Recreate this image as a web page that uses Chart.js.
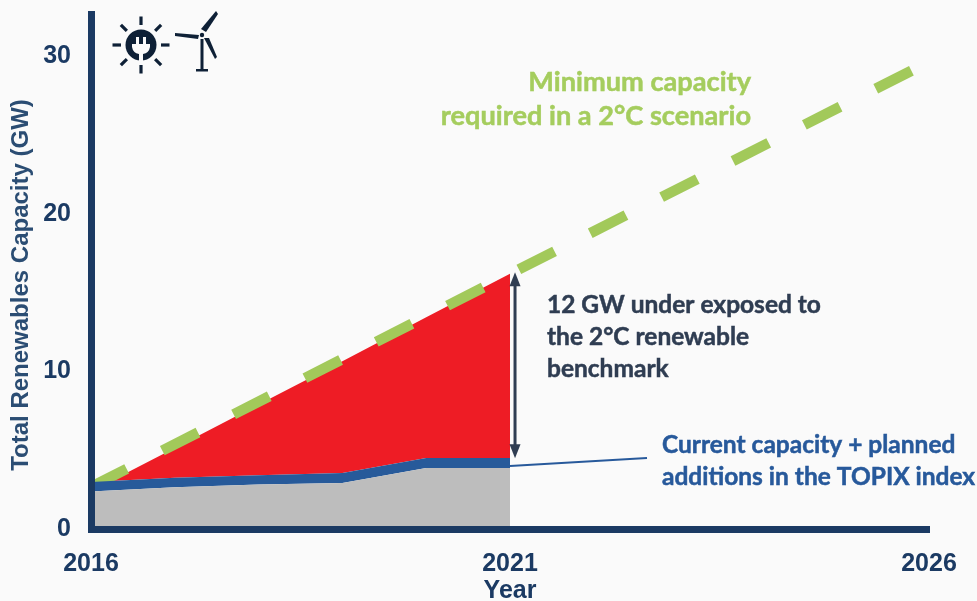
<!DOCTYPE html>
<html>
<head>
<meta charset="utf-8">
<title>Renewables capacity</title>
<script src="https://cdn.jsdelivr.net/npm/chart.js@4/dist/chart.umd.min.js"></script>
<style>
  html, body { margin: 0; padding: 0; background: #fafafa; }
  #box { width: 977px; height: 601px; }
</style>
</head>
<body>
<div id="box"><canvas id="grafico"></canvas></div>
<script>
// values
const anos = [2016, 2017, 2018, 2019, 2020, 2021];
const existente = [2.38, 2.65, 2.82, 2.92, 3.87, 3.87];
const planejado = [2.98, 3.25, 3.42, 3.56, 4.51, 4.51];
const lacuna = [2.4, 5.15, 7.9, 10.65, 13.45, 16.2];
const anosCenario = [2016, 2021, 2025.79];
const cenario = [2.67, 16.2, 29.1];
const ticksX = [2016, 2021, 2026];
const ticksY = [0, 10, 20, 30];

const pares = (xs, ys) => xs.map((x, i) => ({ x, y: ys[i] }));

const AZUL_EIXO = '#1b3a63';
const fonteEixo = { family: '"Liberation Sans"', weight: 'bold', size: 25 };

const serie = (data, cor, fill) => ({
  data, fill, backgroundColor: cor, borderWidth: 0, pointRadius: 0, tension: 0
});

// bold text slightly heavier, the source font is denser than Lato
function texto(c, s, x, y) {
  c.fillText(s, x, y);
  c.strokeStyle = c.fillStyle;
  c.lineWidth = 0.5;
  c.strokeText(s, x, y);
}

// texts, arrow, leader line and the two icons
const anotacoes = {
  id: 'anotacoes',
  afterDatasetsDraw(chart) {
    const c = chart.ctx;
    const sx = chart.scales.x, sy = chart.scales.y;
    c.save();

    // double arrow
    const xa = sx.getPixelForValue(2021.06);
    const y1 = sy.getPixelForValue(16.3), y2 = sy.getPixelForValue(4.5);
    c.strokeStyle = c.fillStyle = '#2f3d52';
    c.lineWidth = 3;
    c.beginPath(); c.moveTo(xa, y1 + 8); c.lineTo(xa, y2 - 8); c.stroke();
    c.beginPath(); c.moveTo(xa, y1); c.lineTo(xa - 5.5, y1 + 14); c.lineTo(xa + 5.5, y1 + 14); c.fill();
    c.beginPath(); c.moveTo(xa, y2); c.lineTo(xa - 5.5, y2 - 14); c.lineTo(xa + 5.5, y2 - 14); c.fill();

    // leader
    c.strokeStyle = '#27599b';
    c.lineWidth = 2;
    c.beginPath();
    c.moveTo(sx.getPixelForValue(2021), sy.getPixelForValue(4.0));
    c.lineTo(647, 458);
    c.stroke();

    // y axis title sits lower than the axis middle, so it is placed by hand
    c.save();
    c.translate(21, 285);
    c.rotate(-Math.PI / 2);
    c.textAlign = 'center';
    c.textBaseline = 'middle';
    c.font = 'bold 24px "Liberation Sans"';
    c.fillStyle = '#2b4d73';
    c.fillText('Total Renewables Capacity (GW)', 0, 0);
    c.restore();

    // labels
    c.textBaseline = 'middle';
    c.font = 'bold 27.2px Lato';
    c.fillStyle = '#a5cd5e';
    c.textAlign = 'right';
    texto(c, 'Minimum capacity', 751, 82);
    texto(c, 'required in a 2°C scenario', 751, 116);

    c.textAlign = 'left';
    c.font = 'bold 24.5px Lato';
    c.fillStyle = '#2f3d52';
    texto(c, '12 GW under exposed to', 547, 305);
    texto(c, 'the 2°C renewable', 547, 337);
    texto(c, 'benchmark', 547, 369);

    c.fillStyle = '#27599b';
    texto(c, 'Current capacity + planned', 662, 445);
    texto(c, 'additions in the TOPIX index', 662, 477);

    // sun + plug
    c.strokeStyle = c.fillStyle = '#0e2036';
    c.lineWidth = 3.2;
    for (let i = 0; i < 8; i++) {
      const a = i * Math.PI / 4;
      c.beginPath();
      c.moveTo(141 + 20 * Math.cos(a), 45 + 20 * Math.sin(a));
      c.lineTo(141 + 28.5 * Math.cos(a), 45 + 28.5 * Math.sin(a));
      c.stroke();
    }
    c.beginPath(); c.arc(141, 45, 15.5, 0, Math.PI * 2); c.fill();
    c.fillStyle = '#fafafa';
    c.beginPath();
    c.moveTo(132, 44); c.lineTo(150, 44); c.lineTo(150, 47);
    c.quadraticCurveTo(149, 53, 143, 54); c.lineTo(143, 61); c.lineTo(139, 61); c.lineTo(139, 54);
    c.quadraticCurveTo(133, 53, 132, 47);
    c.fill();
    c.fillRect(136, 37, 3, 8);
    c.fillRect(143, 37, 3, 8);

    // turbine
    c.fillStyle = '#0e2036';
    c.beginPath(); c.arc(202, 35, 2.2, 0, Math.PI * 2); c.fill();
    c.beginPath(); c.moveTo(216, 11); c.lineTo(218, 14); c.lineTo(206, 32); c.lineTo(201, 29); c.fill();
    c.beginPath(); c.moveTo(175, 33); c.lineTo(175, 36); c.lineTo(198, 39); c.lineTo(199, 35); c.fill();
    c.beginPath(); c.moveTo(204, 38); c.lineTo(209, 38); c.lineTo(217, 57); c.lineTo(215, 59); c.fill();
    c.fillRect(200.5, 39, 3, 31);
    c.fillRect(196, 69, 12, 2.5);
    c.restore();
  }
};

// Chart.js paints the last dataset first: red, then green, then blue and grey on top
new Chart(document.getElementById('grafico'), {
  type: 'line',
  data: {
    datasets: [
      serie(pares(anos, existente), '#bdbdbd', 'origin'),
      serie(pares(anos, planejado), '#275a9a', 0),
      {
        data: pares(anosCenario, cenario),
        fill: false,
        borderColor: '#a2c95a',
        borderWidth: 10.5,
        borderDash: [40, 40],
        pointRadius: 0,
        tension: 0,
        clip: false
      },
      serie(pares(anos, lacuna), '#ee1c25', 1)
    ]
  },
  options: {
    responsive: true,
    maintainAspectRatio: false,
    animation: false,
    layout: { padding: { top: 14, right: 48, left: 0, bottom: 0 } },
    plugins: { legend: { display: false }, tooltip: { enabled: false } },
    scales: {
      x: {
        type: 'linear',
        min: 2016,
        max: 2026,
        afterFit: s => { s.height = 72; s.paddingLeft = 0; s.paddingRight = 0; },
        afterBuildTicks: s => { s.ticks = ticksX.map(value => ({ value })); },
        grid: { display: false, drawTicks: false },
        border: { color: AZUL_EIXO, width: 7, z: 1 },
        ticks: {
          color: AZUL_EIXO, font: fonteEixo, padding: 20, maxRotation: 0,
          callback: v => String(v)
        },
        title: {
          display: true, text: 'Year', color: AZUL_EIXO, font: fonteEixo,
          padding: { top: 2, bottom: -5 }
        }
      },
      y: {
        type: 'linear',
        min: 0,
        max: 32.7,
        afterFit: s => { s.width = 91; s.paddingTop = 0; s.paddingBottom = 0; },
        afterBuildTicks: s => { s.ticks = ticksY.map(value => ({ value })); },
        grid: { display: false, drawTicks: false },
        border: { color: AZUL_EIXO, width: 7, z: 1 },
        ticks: { color: AZUL_EIXO, font: fonteEixo, padding: 20 }
      }
    }
  },
  plugins: [anotacoes]
});
</script>
</body>
</html>
